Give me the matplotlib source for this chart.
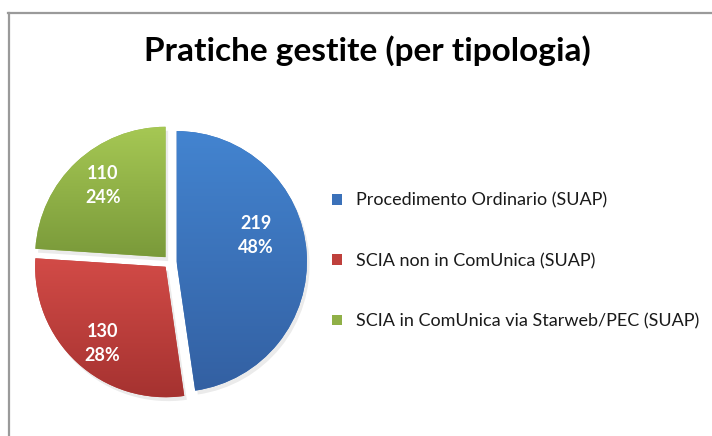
import numpy as np
import matplotlib
matplotlib.use("Agg")
import matplotlib.pyplot as plt
from matplotlib.patches import Rectangle, Wedge
from matplotlib.lines import Line2D
from matplotlib.colors import to_rgb

title = "Pratiche gestite (per tipologia)"
categories = ["Procedimento Ordinario (SUAP)",
              "SCIA non in ComUnica (SUAP)",
              "SCIA in ComUnica via Starweb/PEC (SUAP)"]
values = [219, 130, 110]
pct_labels = ["48%", "28%", "24%"]
colors_top = ["#4384d0", "#d24b47", "#a6c854"]
colors_bottom = ["#3360a2", "#a53230", "#7a9a3a"]
colors_mid = ["#3b71b9", "#bf403c", "#90b047"]

W, H = 712, 436
fig = plt.figure(figsize=(W / 100, H / 100), dpi=100)
fig.patch.set_facecolor("white")

# frame lines (chart border)
fig.add_artist(Line2D([8 / W, 1.0], [1 - 13 / H, 1 - 13 / H], color="#9a9a9a", lw=1.6))
fig.add_artist(Line2D([9 / W, 9 / W], [1 - 13 / H, 0], color="#9a9a9a", lw=1.6))

fig.text(367 / W, 1 - 51 / H, title, ha="center", va="center",
         fontsize=24, fontweight="bold", family=["Lato", "DejaVu Sans"], color="black")

cx, cy, size = 170, 262, 300
ax = fig.add_axes([(cx - size / 2) / W, (H - cy - size / 2) / H, size / W, size / H])

wedges, _ = ax.pie(values, startangle=90, counterclock=False,
                   explode=[0.05, 0.05, 0.05], radius=1.0,
                   colors=colors_mid, wedgeprops=dict(linewidth=0))
ax.set_aspect("equal")
ax.axis("off")

# shadow + gradient fills
for i, w in enumerate(wedges):
    sh = Wedge((w.center[0] + 0.02, w.center[1] - 0.03), w.r,
               w.theta1, w.theta2, facecolor="#000000",
               alpha=0.08, lw=0, zorder=0.5)
    ax.add_patch(sh)
    w.set_zorder(1)
    verts = w.get_path().vertices
    y0, y1 = verts[:, 1].min(), verts[:, 1].max()
    x0, x1 = verts[:, 0].min(), verts[:, 0].max()
    top = np.array(to_rgb(colors_top[i]))
    bot = np.array(to_rgb(colors_bottom[i]))
    t = np.linspace(0, 1, 256)[:, None]
    grad = (top[None, :] * (1 - t) + bot[None, :] * t)[:, None, :]
    im = ax.imshow(grad, extent=[x0, x1, y0, y1], origin="upper",
                   aspect="auto", zorder=1.5, interpolation="bilinear")
    im.set_clip_path(w)
ax.set_xlim(-1.15, 1.15)
ax.set_ylim(-1.15, 1.15)

# data labels
pctd = [0.64, 0.76, 0.73]
label_angle_shift = [14, 3, -2]
for i, (v, w) in enumerate(zip(values, wedges)):
    mid = (w.theta1 + w.theta2) / 2 + label_angle_shift[i]
    r = pctd[i]
    x = w.center[0] + r * np.cos(np.radians(mid))
    y = w.center[1] + r * np.sin(np.radians(mid))
    ax.text(x, y, f"{v}\n{pct_labels[i]}", ha="center", va="center",
            color="white", fontsize=13, fontweight="bold",
            family=["Lato", "DejaVu Sans"], linespacing=1.5, zorder=3)

# legend
handles = [Rectangle((0, 0), 1, 1, facecolor=colors_mid[i], edgecolor="none")
           for i in range(len(categories))]
leg = fig.legend(handles, categories, loc="center left",
                 bbox_to_anchor=(316 / W, 1 - 261 / H), frameon=False,
                 prop=dict(family=["Lato", "DejaVu Sans"], size=13),
                 handlelength=0.55, handleheight=0.55, handletextpad=0.75,
                 labelspacing=2.45, labelcolor="#1a1a1a")

fig.savefig("out.png", dpi=100, facecolor="white")
